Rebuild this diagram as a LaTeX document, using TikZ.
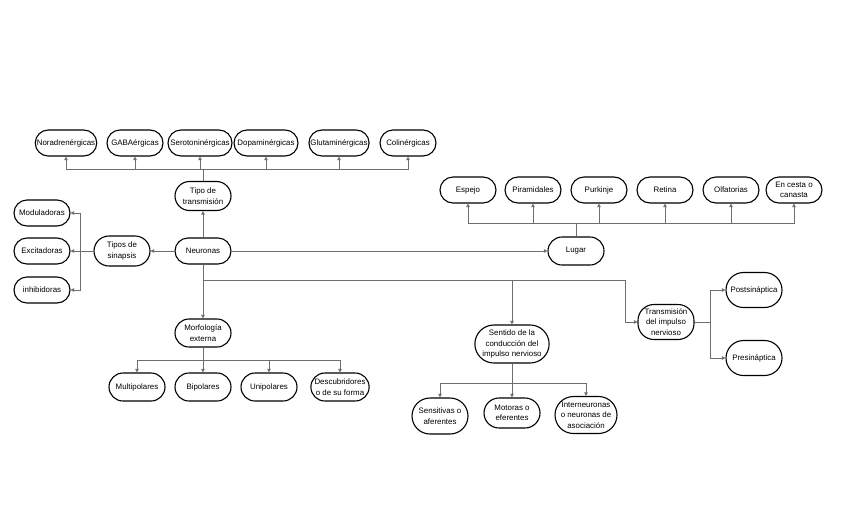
\documentclass[tikz,border=0pt]{standalone}
\usepackage{fontspec}
\setmainfont{Liberation Sans}
\usepackage{tikz}
\usetikzlibrary{shapes.misc, arrows.meta}

\definecolor{linkgray}{HTML}{6E6E6E}

\begin{document}
\begin{tikzpicture}[x=1pt, y=-1pt,
    every node/.style={font=\fontsize{7.9}{10.6}\selectfont},
    box/.style={draw, line width=1.1pt, rounded rectangle, minimum width=58pt,
        minimum height=26pt, inner xsep=1pt, inner ysep=2pt, align=center},
    link/.style={draw=linkgray, line width=0.8pt},
    tip/.style={link, -{Triangle[width=3.5pt, length=3.5pt]}}]
    \useasboundingbox (0,0) rectangle (848,509);

    % Tipo de transmision
    \foreach \n/\x/\content in {nora/66/Noradrenérgicas, gaba/135/GABAérgicas,
        glut/339/Glutaminérgicas, coli/408/Colinérgicas} {
        \node[box] (\n) at (\x,143) {\content};
    }
    \node[box, inner xsep=-3pt] (sero) at (200,143) {Serotoninérgicas};
    \node[box, inner xsep=-3pt] (dopa) at (266,143) {Dopaminérgicas};
    \node[box, minimum height=29pt] (tipo) at (203,196) {Tipo de\\transmisión};
    \node[box] (neur) at (203,251) {Neuronas};

    % Tipos de sinapsis
    \node[box, minimum height=30pt] (sinap) at (122,251) {Tipos de\\sinapsis};
    \foreach \n/\y/\content in {modu/213/Moduladoras, exci/251/Excitadoras, inhi/290/inhibidoras} {
        \node[box] (\n) at (42,\y) {\content};
    }

    % Lugar
    \node[box, minimum height=28pt] (lugar) at (576,251) {Lugar};
    \foreach \n/\x/\content in {espejo/468/Espejo, pira/533/Piramidales, purk/599/Purkinje,
        reti/665/Retina, olfa/731/Olfatorias, cesta/794/{En cesta o\\canasta}} {
        \node[box] (\n) at (\x,190) {\content};
    }

    % Morfologia externa
    \node[box, minimum height=28pt] (morf) at (203,333) {Morfología\\externa};
    \foreach \n/\x/\content in {multi/137/Multipolares, bipo/203/Bipolares,
        unip/269/Unipolares, desc/340/{Descubridores\\o de su forma}} {
        \node[box, minimum height=28pt] (\n) at (\x,387) {\content};
    }

    % Sentido de la conduccion
    \node[box, minimum height=38pt] (sent) at (512,344) {Sentido de la\\conducción del\\impulso nervioso};
    \node[box, minimum height=36pt] (sens) at (440,416) {Sensitivas o\\aferentes};
    \node[box, minimum height=30pt] (moto) at (512,413) {Motoras o\\eferentes};
    \node[box, minimum height=37pt, inner xsep=-2pt] (inter) at (586,415) {Interneuronas\\o neuronas de\\asociación};

    % Transmision del impulso
    \node[box, rectangle, rounded corners=16pt, minimum height=35pt, minimum width=56pt,
        inner xsep=0pt] (trans) at (666,322) {Transmisión\\del impulso\\nervioso};
    \node[box, minimum height=35pt] (post) at (754,290) {Postsináptica};
    \node[box, minimum height=35pt] (pres) at (754,358) {Presináptica};

    % Connectors
    \coordinate (tbus) at (203,169);
    \draw[tip] (neur.north) -- (tipo.south);
    \draw[link] (tipo.north) -- (tbus);
    \foreach \n in {nora,gaba,sero,dopa,glut,coli}
        \draw[tip] (tbus) -| (\n.south);

    \coordinate (sbus) at (80,251);
    \draw[tip] (neur.west) -- (sinap.east);
    \draw[link] (sinap.west) -- (sbus);
    \foreach \n in {modu,exci,inhi}
        \draw[tip] (sbus) |- (\n.east);

    \coordinate (lbus) at (576,223);
    \draw[tip] (neur.east) -- (lugar.west);
    \draw[link] (lugar.north) -- (lbus);
    \foreach \n in {espejo,pira,purk,reti,olfa,cesta}
        \draw[tip] (lbus) -| (\n.south);

    \coordinate (mbus) at (203,280);
    \coordinate (mcorner) at (625,280);
    \draw[link] (neur.south) -- (mbus) -- (mcorner);
    \draw[tip] (mbus) -- (morf.north);
    \draw[tip] (sent.north |- mbus) -- (sent.north);
    \draw[tip] (mcorner) |- (trans.west);

    \coordinate (fbus) at (203,360);
    \draw[link] (morf.south) -- (fbus);
    \foreach \n in {multi,bipo,unip,desc}
        \draw[tip] (fbus) -| (\n.north);

    \coordinate (cbus) at (512,383);
    \draw[link] (sent.south) -- (cbus);
    \foreach \n in {sens,moto,inter}
        \draw[tip] (cbus) -| (\n.north);

    \coordinate (pbus) at (710,322);
    \draw[link] (trans.east) -- (pbus);
    \foreach \n in {post,pres}
        \draw[tip] (pbus) |- (\n.west);
\end{tikzpicture}
\end{document}
